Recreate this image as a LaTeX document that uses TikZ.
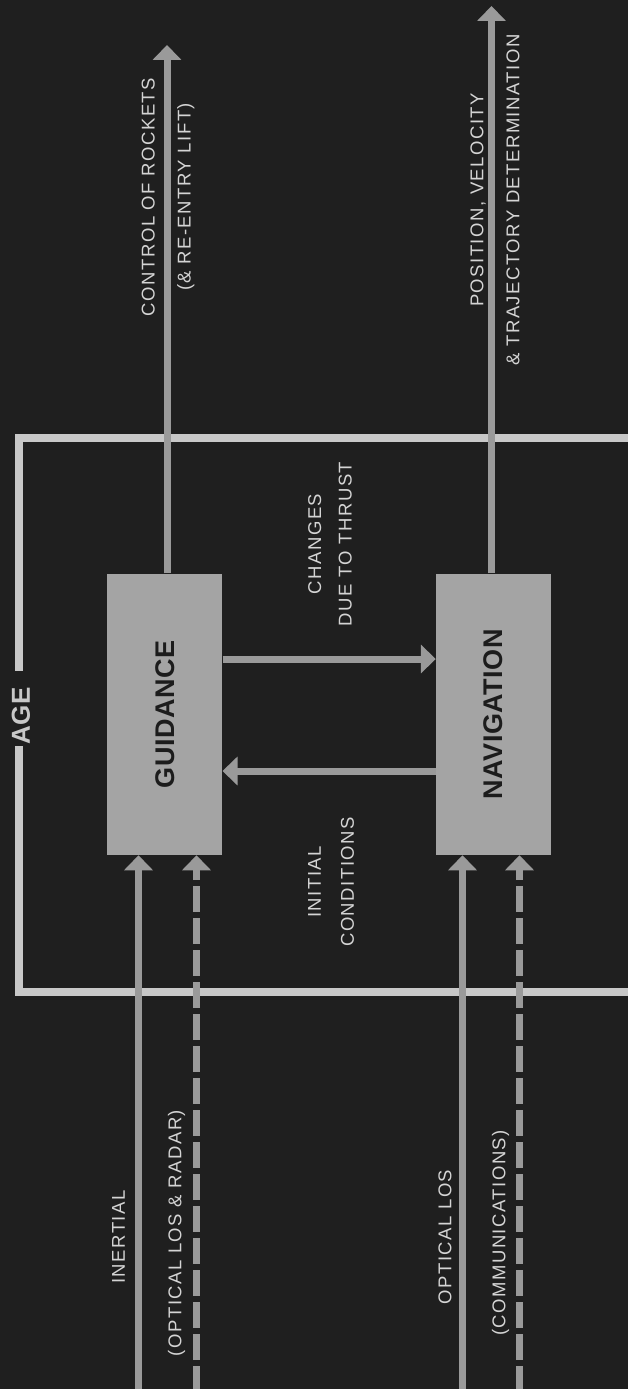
\documentclass[tikz,border=0pt]{standalone}
\usepackage{fontspec}
\usepackage{graphicx}
\setmainfont{Liberation Sans}
\newfontfamily\lblfont[LetterSpace=8]{Liberation Sans}
\newfontfamily\boldlbl[LetterSpace=2]{Liberation Sans Bold}
\usetikzlibrary{arrows.meta}
\definecolor{bg}{HTML}{1F1F1F}
\definecolor{boxgray}{HTML}{A4A4A4}
\definecolor{linegray}{HTML}{9A9A9A}
\definecolor{framegray}{HTML}{C8C8C8}
\definecolor{labelgray}{HTML}{D4D4D4}
\definecolor{boxtext}{HTML}{1C1C1C}
\begin{document}
\begin{tikzpicture}[x=1bp,y=-1bp,
  blockbox/.style={rectangle, fill=boxgray, draw=none, inner sep=0pt,
    minimum width=115bp, minimum height=281.5bp, text=boxtext,
    font=\boldlbl\fontsize{27bp}{32bp}\selectfont},
  arr/.style={draw=linegray, line width=7bp, -{Triangle[length=15bp,width=28bp]}},
  dasharr/.style={arr, dash pattern=on 26bp off 6bp},
  frame/.style={draw=framegray, line width=7.5bp, line cap=rect, line join=miter},
  lbl/.style={rotate=90, align=center, inner sep=0pt, text=labelgray,
    font=\lblfont\fontsize{18.5bp}{36bp}\selectfont},
  agelbl/.style={rotate=90, inner sep=0pt, text=framegray,
    font=\boldlbl\fontsize{26bp}{30bp}\selectfont}]
\useasboundingbox (0,0) rectangle (628,1389);
\fill[bg] (0,0) rectangle (628,1389);
\begin{scope}
\clip (0,0) rectangle (628,1389);
% AGE frame
\coordinate (fTL) at (19,438);
\coordinate (fBL) at (19,992);
\coordinate (gapT) at (19,667);
\coordinate (gapB) at (19,750);
\draw[frame] (650,438) -- (fTL) -- (gapT);
\draw[frame] (gapB) -- (fBL) -- (650,992);
\node[agelbl] (age) at (21,716) {AGE};
% blocks
\node[blockbox] (g) at (164.8,714.3) {\rotatebox{90}{GUIDANCE}};
\node[blockbox] (n) at (493.5,714.3) {\rotatebox{90}{NAVIGATION}};
% outputs
\coordinate (outG) at (167,45);
\coordinate (outN) at (491.5,6);
\draw[arr] (outG |- g.north) -- (outG);
\draw[arr] (outN |- n.north) -- (outN);
% cross connections
\coordinate (chg) at (0,659);
\coordinate (ini) at (0,771);
\draw[arr] (g.east |- chg) -- (n.west |- chg);
\draw[arr] (n.west |- ini) -- (g.east |- ini);
% inputs
\coordinate (inA) at (138.5,1392);
\coordinate (inB) at (196.5,1392);
\coordinate (inC) at (462.5,1392);
\coordinate (inD) at (519.5,1392);
\draw[arr] (inA) -- (inA |- g.south);
\draw[dasharr] (inB) -- (inB |- g.south);
\draw[arr] (inC) -- (inC |- n.south);
\draw[dasharr] (inD) -- (inD |- n.south);
\end{scope}
% labels
\node[lbl] (ctrl) at (168,197) {CONTROL OF ROCKETS\\(\& RE-ENTRY LIFT)};
\node[lbl] (pos) at (495,200) {POSITION, VELOCITY\\\& TRAJECTORY DETERMINATION};
\node[lbl, font=\lblfont\fontsize{18.5bp}{30.5bp}\selectfont] (chgl) at (330,544) {CHANGES\\DUE TO THRUST};
\node[lbl, font=\lblfont\fontsize{18.5bp}{33bp}\selectfont] (inil) at (331,882) {INITIAL\\CONDITIONS};
\node[lbl] (inert) at (118.5,1237) {INERTIAL};
\node[lbl] (olr) at (176.5,1233) {(OPTICAL LOS \& RADAR)};
\node[lbl] (ol) at (445,1237) {OPTICAL LOS};
\node[lbl] (com) at (500.6,1233) {(COMMUNICATIONS)};
\end{tikzpicture}
\end{document}
